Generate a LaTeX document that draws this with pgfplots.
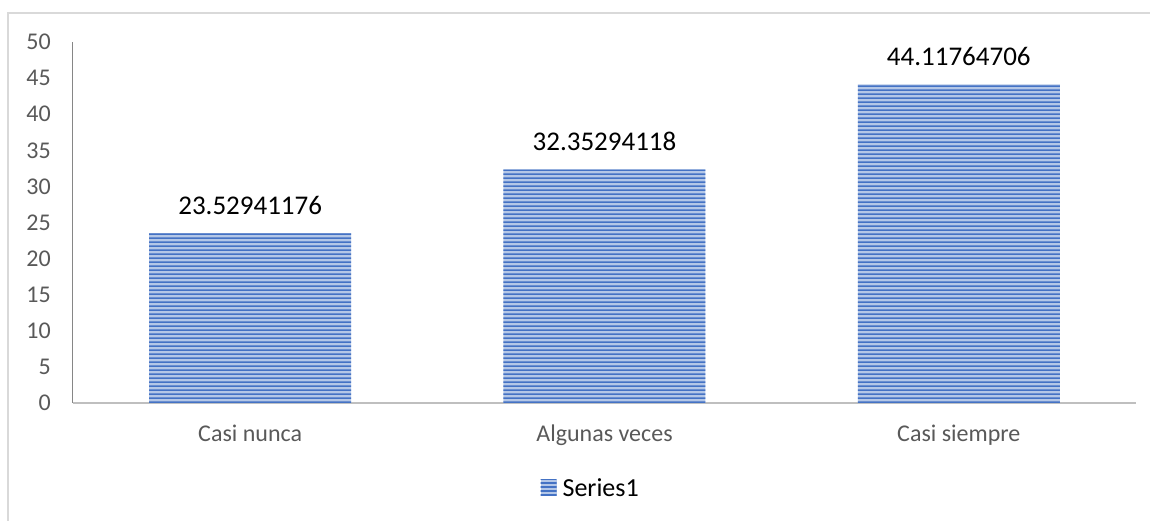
\documentclass[border=0pt]{standalone}
\usepackage{fontspec}
\setmainfont{Carlito}
\usepackage{pgfplots}
\pgfplotsset{compat=1.18}
\usetikzlibrary{patterns}
\pgfdeclarepatternformonly{hstripes}{\pgfqpoint{0pt}{0pt}}{\pgfqpoint{400pt}{4.2pt}}{\pgfqpoint{400pt}{4.2pt}}{%
  \pgfpathrectangle{\pgfqpoint{-1pt}{0pt}}{\pgfqpoint{402pt}{2pt}}\pgfusepath{fill}}
\definecolor{barblue}{HTML}{4472C4}
\definecolor{barlight}{HTML}{B4C7E7}
\definecolor{txtgray}{HTML}{595959}
\definecolor{borderg}{HTML}{D9D9D9}
\definecolor{xaxisg}{HTML}{BFBFBF}
\definecolor{yaxisg}{HTML}{868686}
\begin{document}
\begin{tikzpicture}
\useasboundingbox (0,0) rectangle (1150pt,520pt);
\draw[borderg, line width=1.5pt] (8pt,-5pt) -- (8pt,507pt) -- (1155pt,507pt);
\begin{axis}[
 at={(73pt,117pt)}, anchor=south west,
 scale only axis, width=1063pt, height=361pt,
 ybar, bar width=202pt,
 xmin=-0.5, xmax=2.5, ymin=0, ymax=50,
 xtick={0,1,2}, xticklabels={Casi nunca,Algunas veces,Casi siempre},
 ytick={0,5,...,50},
 axis lines=left,
 x axis line style={-, draw=xaxisg, line width=2.5pt},
 y axis line style={-, draw=yaxisg, line width=1pt},
 major tick length=0pt,
 tick label style={font=\fontsize{24}{28}\selectfont, text=txtgray},
 /pgf/number format/assume math mode=true,
 yticklabel style={inner sep=0pt, xshift=-22pt},
 xticklabel style={inner sep=0pt, yshift=-22pt},
 nodes near coords, point meta=explicit symbolic,
 nodes near coords style={font=\fontsize{27}{32}\selectfont, text=black, anchor=south, yshift=15pt},
 legend style={at={(0.487,-0.235)}, anchor=center, draw=none, font=\fontsize{26}{30}\selectfont, text=black},
 legend image code/.code={\path[#1] (0pt,-8pt) rectangle (16pt,8pt); \path (20pt,0pt);},
 clip=false,
]
\addplot[draw=none, fill=barlight, postaction={pattern=hstripes, pattern color=barblue}]
 coordinates {(0,23.52941176)[23.52941176] (1,32.35294118)[32.35294118] (2,44.11764706)[44.11764706]};
\legend{Series1}
\end{axis}
\end{tikzpicture}
\end{document}
